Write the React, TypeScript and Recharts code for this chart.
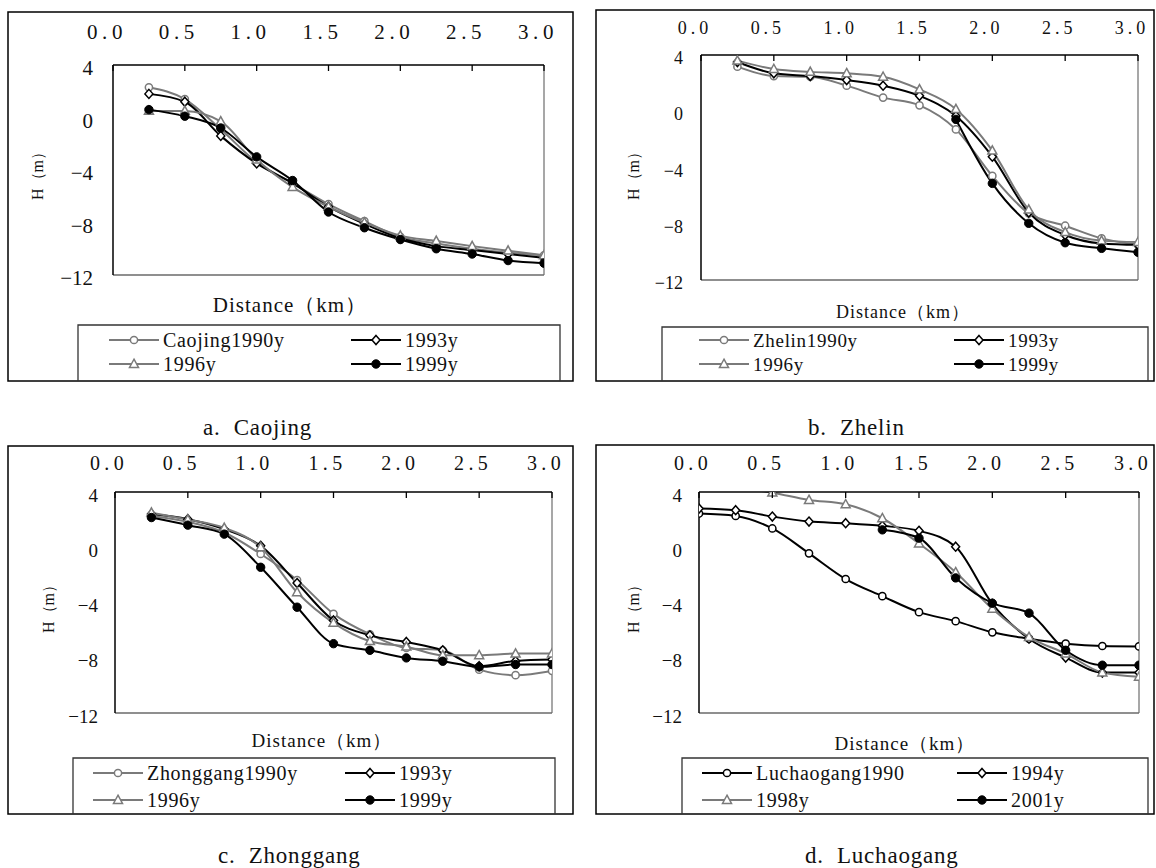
import React from "react";
import { LineChart, Line, XAxis, YAxis, ReferenceLine } from "recharts";

const FONT = "'Liberation Serif', serif";
const GRAY = "#7a7a7a";
const BLACK = "#000";

// tick labels
const xTicks = [0, 0.5, 1, 1.5, 2, 2.5, 3];
const yTicks = [4, 0, -4, -8, -12];

// distance (km) categories
const distABC = [0.25, 0.5, 0.75, 1, 1.25, 1.5, 1.75, 2, 2.25, 2.5, 2.75, 3];
const distD = [0, 0.25, 0.5, 0.75, 1, 1.25, 1.5, 1.75, 2, 2.25, 2.5, 2.75, 3];

// a. Caojing
const caojing1990 = [2.3, 1.4, -0.9, -3.4, -5.0, -6.6, -7.9, -9.1, -9.6, -10.0, -10.3, -10.5];
const caojing1993 = [1.8, 1.2, -1.4, -3.5, -5.0, -6.8, -8.1, -9.2, -9.8, -10.1, -10.4, -10.7];
const caojing1996 = [0.5, 0.5, -0.3, -3.2, -5.3, -6.8, -8.0, -9.0, -9.4, -9.8, -10.15, -10.5];
const caojing1999 = [0.6, 0.1, -0.8, -3.0, -4.8, -7.2, -8.4, -9.3, -10.0, -10.4, -10.9, -11.1];

// b. Zhelin
const zhelin1990 = [3.17, 2.5, 2.45, 1.82, 0.97, 0.42, -1.29, -4.6, -7.26, -8.14, -9.04, -9.5];
const zhelin1993 = [3.5, 2.7, 2.5, 2.22, 1.82, 1.1, -0.34, -3.23, -7.2, -8.8, -9.4, -9.5];
const zhelin1996 = [3.6, 3.0, 2.8, 2.7, 2.45, 1.55, 0.15, -2.8, -7.0, -8.6, -9.2, -9.3];
const zhelin1999 = [null, null, null, null, null, null, -0.58, -5.13, -7.97, -9.35, -9.75, -10.03];

// c. Zhonggang
const zhonggang1990 = [2.27, 1.84, 1.07, -0.49, -2.37, -4.82, -6.3, -7.29, -7.46, -8.86, -9.26, -8.95];
const zhonggang1993 = [2.4, 2.03, 1.31, 0.1, -2.59, -5.3, -6.38, -6.86, -7.46, -8.61, -8.23, -8.13];
const zhonggang1996 = [2.5, 2.0, 1.4, 0.0, -3.26, -5.47, -6.8, -7.2, -7.82, -7.82, -7.7, -7.7];
const zhonggang1999 = [2.15, 1.6, 0.95, -1.45, -4.34, -6.98, -7.46, -8.01, -8.25, -8.66, -8.49, -8.49];

// d. Luchaogang
const luchaogang1990 = [2.44, 2.27, 1.36, -0.44, -2.3, -3.54, -4.7, -5.35, -6.16, -6.62, -6.98, -7.15, -7.18];
const luchaogang1994 = [2.8, 2.68, 2.22, 1.86, 1.74, 1.55, 1.19, 0.04, -4.1, -6.62, -7.99, -9.07, -9.07];
const luchaogang1998 = [4.7, 4.35, 3.95, 3.42, 3.11, 2.1, 0.27, -1.81, -4.46, -6.5, -7.7, -9.07, -9.38];
const luchaogang2001 = [null, null, null, null, null, 1.26, 0.66, -2.22, -4.05, -4.77, -7.46, -8.54, -8.54];

type Marker = "circle" | "diamond" | "triangle" | "dot";

interface SeriesDef {
  key: string;
  name: string;
  color: string;
  marker: Marker;
  values: (number | null)[];
}

interface PanelSpec {
  box: { left: number; top: number; right: number; bottom: number };
  plot: { left: number; top: number; right: number; bottom: number };
  dist: number[];
  series: SeriesDef[];
  xFont: number;
  xLift: number;
  yFont: number;
  yGap: number;
  hLabel: { x: number; y: number };
  distLabel: { x: number; y: number; fs: number };
  legend: { left: number; top: number; right: number; rows: number[]; cols: number[]; fs: number };
  caption: { text: string; x: number; y: number };
}

function marker(m: Marker, cx: number, cy: number, color: string, key: string | number) {
  if (m === "circle")
    return <circle key={key} cx={cx} cy={cy} r={3.6} fill="#fff" stroke={color} strokeWidth={1.5} />;
  if (m === "diamond")
    return (
      <polygon
        key={key}
        points={`${cx},${cy - 4.5} ${cx + 4},${cy} ${cx},${cy + 4.5} ${cx - 4},${cy}`}
        fill="#fff"
        stroke={color}
        strokeWidth={1.5}
      />
    );
  if (m === "triangle")
    return (
      <polygon
        key={key}
        points={`${cx},${cy - 4.8} ${cx + 4.5},${cy + 3.4} ${cx - 4.5},${cy + 3.4}`}
        fill="#fff"
        stroke={color}
        strokeWidth={1.5}
      />
    );
  return <circle key={key} cx={cx} cy={cy} r={4.2} fill={color} stroke={color} strokeWidth={1} />;
}

function fmtY(v: number) {
  return v < 0 ? "\u2212" + Math.abs(v) : String(v);
}

function Panel({ spec }: { spec: PanelSpec }) {
  const { box, plot, dist, series } = spec;
  const data = dist.map((x, i) => {
    const row: Record<string, number | null> = { x };
    series.forEach((s) => (row[s.key] = s.values[i]));
    return row;
  });
  const w = box.right - box.left;
  const h = box.bottom - box.top;
  const margin = {
    top: plot.top - box.top - 1,
    left: plot.left - box.left - 1,
    right: box.right - plot.right,
    bottom: box.bottom - plot.bottom,
  };
  return (
    <div style={{ position: "absolute", left: box.left, top: box.top, fontFamily: FONT }}>
      <LineChart width={w} height={h} data={data} margin={margin}>
        <XAxis
          type="number"
          dataKey="x"
          orientation="top"
          domain={[0, 3]}
          ticks={xTicks}
          interval={0}
          height={1}
          tickSize={0}
          tickMargin={0}
          allowDataOverflow
          axisLine={{ stroke: BLACK, strokeWidth: 1.5 }}
          tickLine={false}
          tick={(p: any) => (
            <g key={`xt${p.index}`}>
              <line x1={p.x} x2={p.x} y1={p.y} y2={p.y + 6} stroke={BLACK} strokeWidth={1.3} />
              <text
                x={p.x - 6}
                y={p.y - spec.xLift}
                textAnchor="middle"
                style={{ fontFamily: FONT, fontSize: spec.xFont, letterSpacing: spec.xFont * 0.22 }}
                fill="#111"
              >
                {Number(p.payload.value).toFixed(1)}
              </text>
            </g>
          )}
        />
        <YAxis
          type="number"
          domain={[-12, 4]}
          ticks={yTicks}
          interval={0}
          width={1}
          tickSize={0}
          tickMargin={0}
          allowDataOverflow
          axisLine={{ stroke: BLACK, strokeWidth: 1.5 }}
          tickLine={false}
          tick={(p: any) => (
            <text
              key={`yt${p.index}`}
              x={p.x - spec.yGap}
              y={p.y + 3}
              textAnchor="end"
              dominantBaseline="central"
              style={{ fontFamily: FONT, fontSize: spec.yFont }}
              fill="#111"
            >
              {fmtY(Number(p.payload.value))}
            </text>
          )}
        />
        <ReferenceLine x={3} stroke="#8a8a8a" strokeWidth={1.5} />
        <ReferenceLine y={-12} stroke="#6a6a6a" strokeWidth={1.5} />
        {series.map((s) => (
          <Line
            key={s.key}
            dataKey={s.key}
            type="monotone"
            stroke={s.color}
            strokeWidth={2}
            isAnimationActive={false}
            activeDot={false}
            dot={(p: any) =>
              p.cy == null || p.value == null ? (
                <g key={`${s.key}-${p.index}`} />
              ) : (
                marker(s.marker, p.cx, p.cy, s.color, `${s.key}-${p.index}`)
              )
            }
          />
        ))}
      </LineChart>
    </div>
  );
}

function Overlay({ spec }: { spec: PanelSpec }) {
  const { box, legend, hLabel, distLabel, caption, series } = spec;
  return (
    <g style={{ fontFamily: FONT }} fill="#111">
      <rect
        x={box.left}
        y={box.top}
        width={box.right - box.left}
        height={box.bottom - box.top}
        fill="none"
        stroke={BLACK}
        strokeWidth={1.5}
      />
      <text
        x={hLabel.x}
        y={hLabel.y}
        transform={`rotate(-90 ${hLabel.x} ${hLabel.y})`}
        textAnchor="middle"
        dominantBaseline="central"
        style={{ fontSize: 16 }}
      >
        H（m）
      </text>
      <text
        x={distLabel.x}
        y={distLabel.y}
        textAnchor="middle"
        dominantBaseline="central"
        style={{ fontSize: distLabel.fs, letterSpacing: 1 }}
      >
        Distance（km）
      </text>
      <polyline
        points={`${legend.left},${box.bottom} ${legend.left},${legend.top} ${legend.right},${legend.top} ${legend.right},${box.bottom}`}
        fill="none"
        stroke="#333"
        strokeWidth={1.3}
      />
      {series.map((s, i) => {
        const x0 = legend.cols[i % 2];
        const y0 = legend.rows[Math.floor(i / 2)];
        return (
          <g key={s.key}>
            <line x1={x0} x2={x0 + 50} y1={y0} y2={y0} stroke={s.color} strokeWidth={2} />
            {marker(s.marker, x0 + 25, y0, s.color, "m")}
            <text x={x0 + 54} y={y0} dominantBaseline="central" style={{ fontSize: legend.fs, letterSpacing: 0.7 }}>
              {s.name}
            </text>
          </g>
        );
      })}
      <text x={caption.x} y={caption.y} dominantBaseline="central" style={{ fontSize: 23, whiteSpace: "pre", letterSpacing: 0.8 }}>
        {caption.text}
      </text>
    </g>
  );
}

function sset(names: string[], colors: string[], vals: (number | null)[][]): SeriesDef[] {
  const markers: Marker[] = ["circle", "diamond", "triangle", "dot"];
  return names.map((n, i) => ({ key: `s${i}`, name: n, color: colors[i], marker: markers[i], values: vals[i] }));
}

const panels: PanelSpec[] = [
  {
    box: { left: 8, top: 12, right: 573, bottom: 381 },
    plot: { left: 113, top: 65, right: 544, bottom: 275 },
    dist: distABC,
    series: sset(
      ["Caojing1990y", "1993y", "1996y", "1999y"],
      [GRAY, BLACK, GRAY, BLACK],
      [caojing1990, caojing1993, caojing1996, caojing1999]
    ),
    xFont: 21,
    xLift: 26,
    yFont: 21,
    yGap: 20,
    hLabel: { x: 37, y: 172 },
    distLabel: { x: 290, y: 305, fs: 21 },
    legend: { left: 78, top: 325, right: 560, rows: [340, 364], cols: [109, 351], fs: 20 },
    caption: { text: "a.  Caojing", x: 203, y: 427 },
  },
  {
    box: { left: 596, top: 10, right: 1154, bottom: 381 },
    plot: { left: 701, top: 55, right: 1138, bottom: 280 },
    dist: distABC,
    series: sset(
      ["Zhelin1990y", "1993y", "1996y", "1999y"],
      [GRAY, BLACK, GRAY, BLACK],
      [zhelin1990, zhelin1993, zhelin1996, zhelin1999]
    ),
    xFont: 18,
    xLift: 21,
    yFont: 18,
    yGap: 18,
    hLabel: { x: 633, y: 172 },
    distLabel: { x: 903, y: 312, fs: 18 },
    legend: { left: 662, top: 327, right: 1148, rows: [340, 364], cols: [699, 954], fs: 19 },
    caption: { text: "b.  Zhelin", x: 808, y: 427 },
  },
  {
    box: { left: 8, top: 446, right: 573, bottom: 814 },
    plot: { left: 115, top: 492, right: 552, bottom: 713 },
    dist: distABC,
    series: sset(
      ["Zhonggang1990y", "1993y", "1996y", "1999y"],
      [GRAY, BLACK, GRAY, BLACK],
      [zhonggang1990, zhonggang1993, zhonggang1996, zhonggang1999]
    ),
    xFont: 20,
    xLift: 22,
    yFont: 19,
    yGap: 17,
    hLabel: { x: 48, y: 605 },
    distLabel: { x: 322, y: 740, fs: 19 },
    legend: { left: 73, top: 758, right: 555, rows: [773, 800], cols: [93, 345], fs: 20 },
    caption: { text: "c.  Zhonggang", x: 218, y: 855 },
  },
  {
    box: { left: 596, top: 445, right: 1154, bottom: 814 },
    plot: { left: 699, top: 492, right: 1139, bottom: 713 },
    dist: distD,
    series: sset(
      ["Luchaogang1990", "1994y", "1998y", "2001y"],
      [BLACK, BLACK, GRAY, BLACK],
      [luchaogang1990, luchaogang1994, luchaogang1998, luchaogang2001]
    ),
    xFont: 20,
    xLift: 22,
    yFont: 19,
    yGap: 17,
    hLabel: { x: 633, y: 605 },
    distLabel: { x: 905, y: 743, fs: 19 },
    legend: { left: 682, top: 758, right: 1148, rows: [773, 800], cols: [702, 957], fs: 20 },
    caption: { text: "d.  Luchaogang", x: 805, y: 855 },
  },
];

export default function App() {
  return (
    <div style={{ position: "absolute", left: 0, top: 0, width: 1156, height: 868, background: "#fff", overflow: "hidden", fontFamily: FONT }}>
      {panels.map((p, i) => (
        <Panel key={i} spec={p} />
      ))}
      <svg width={1156} height={868} style={{ position: "absolute", left: 0, top: 0, pointerEvents: "none" }}>
        {panels.map((p, i) => (
          <Overlay key={i} spec={p} />
        ))}
      </svg>
    </div>
  );
}
